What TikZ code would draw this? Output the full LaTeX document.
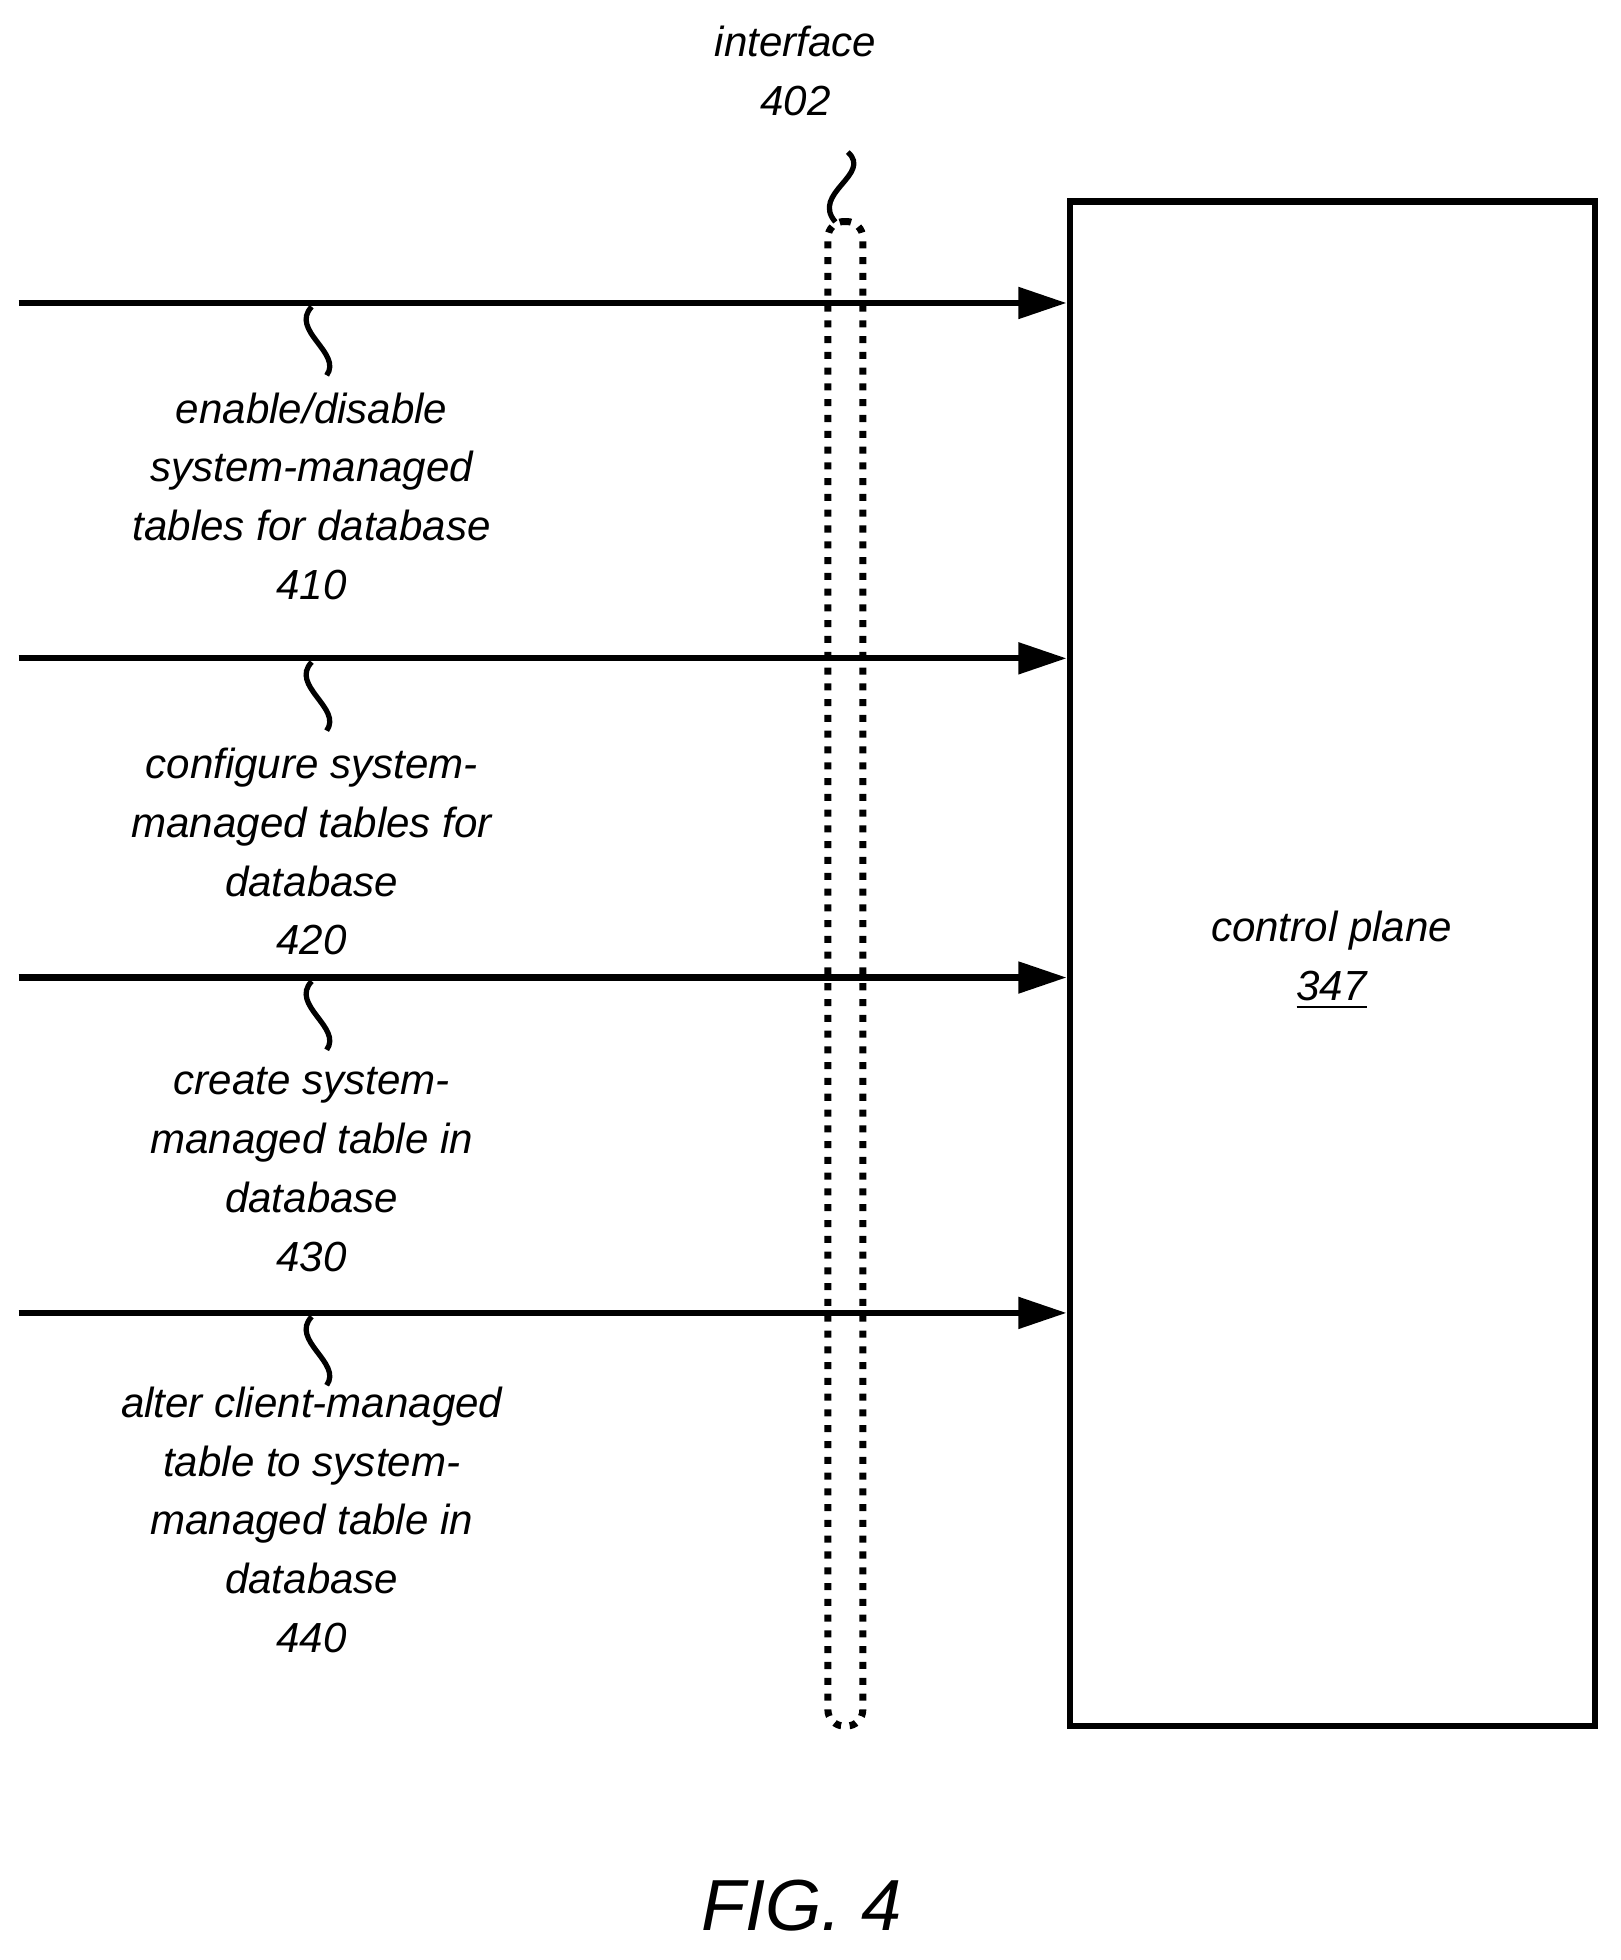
\documentclass[tikz,border=0pt]{standalone}
\usepackage{fontspec}
\setmainfont{Liberation Sans}
\usetikzlibrary{arrows.meta, positioning}

\begin{document}
\begin{tikzpicture}[x=0.01cm,y=-0.01cm,>={Triangle[length=11pt,width=7pt]},
  lbl/.style={align=center,font=\itshape\fontsize{9.6}{13.4}\selectfont,inner sep=0pt},
  msg/.style={->,line width=1.4pt},
  squig/.style={line width=1.2pt}]
                \useasboundingbox (0,0) rectangle (1300,1572);
                \node[draw, line width=1.4pt, minimum width=4.21cm, minimum height=12.22cm, inner sep=0pt] (cp) at (1068.5,773) {};
                \node[lbl] (cpl) at (1068,770) {control plane\\\underline{347}};
                \node[draw, dotted, line width=1.6pt, rounded corners=0.13cm, minimum width=0.28cm, minimum height=12.06cm, inner sep=0pt] (if) at (678,781) {};
                \node[lbl] (ifl) at (638,57) {interface\\402};
                \node[font=\itshape\fontsize{16.5}{20}\selectfont] (fig) at (643,1528) {FIG. 4};

                \coordinate (s1) at (15,243);
                \coordinate (s2) at (15,528);
                \coordinate (s3) at (15,784);
                \coordinate (s4) at (15,1053);
                \node[lbl] (m1) at (250,398) {enable/disable\\system-managed\\tables for database\\410};
                \node[lbl] (m2) at (250,683) {configure system-\\managed tables for\\database\\420};
                \node[lbl] (m3) at (250,938) {create system-\\managed table in\\database\\430};
                \node[lbl] (m4) at (250,1219) {alter client-managed\\table to system-\\managed table in\\database\\440};

                % messages to the control plane
                \foreach \s/\y in {s1/243,s2/528,s3/784,s4/1053}
                  \draw[msg] (\s) -- (cp.west |- 0,\y);

                % squiggles
                \foreach \y in {243,528,784,1053}
                  \draw[squig] (250,\y+3) .. controls (232,\y+22) and (275,\y+40) .. (262,\y+58);
                \draw[squig] (680,122) .. controls (700,140) and (650,155) .. (670,178);
\end{tikzpicture}
\end{document}
